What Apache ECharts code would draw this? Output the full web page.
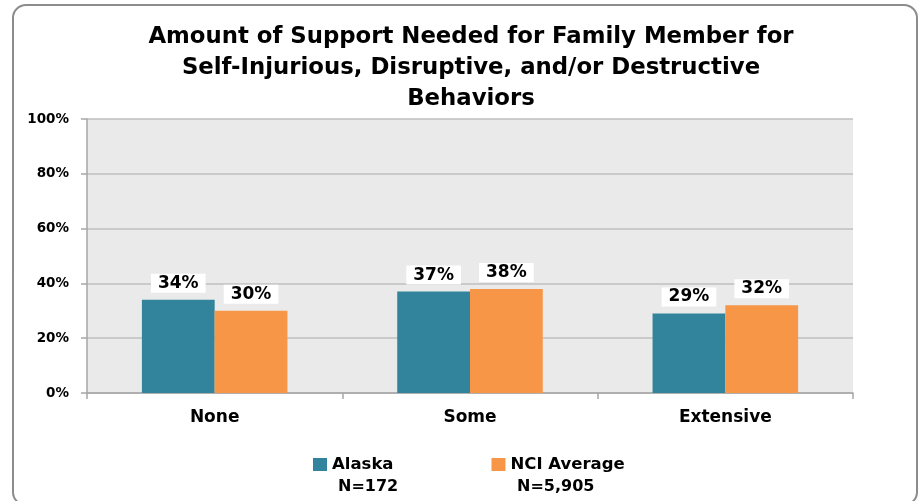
<!DOCTYPE html>
<html>
<head>
<meta charset="utf-8">
<script src="https://cdn.jsdelivr.net/npm/echarts@6/dist/echarts.min.js"></script>
<style>
  html, body { margin: 0; padding: 0; background: #fff; }
  #main { width: 919px; height: 501px; }
</style>
</head>
<body>
<div id="main"></div>
<script>
const categorias = ['None', 'Some', 'Extensive'];
const alaska = [34, 37, 29];
const nciMedia = [30, 38, 32];
const nomesSeries = ['Alaska', 'NCI Average'];
const amostras = ['N=172', 'N=5,905'];
const ticksY = [0, 20, 40, 60, 80, 100];

var myChart = echarts.init(document.getElementById('main'));
var fonte = '"DejaVu Sans", sans-serif';

var rotulo = {
  show: true,
  position: 'top',
  distance: 7,
  formatter: '{c}%',
  fontFamily: fonte,
  fontWeight: 'bold',
  fontSize: 17,
  color: '#000',
  backgroundColor: '#fff',
  padding: [1, 7]
};

var option = {
  animation: false,
  title: {
    text: 'Amount of Support Needed for Family Member for\nSelf-Injurious, Disruptive, and/or Destructive\nBehaviors',
    left: 466,
    textAlign: 'center',
    top: 17,
    textStyle: {
      fontFamily: fonte,
      fontWeight: 'bold',
      fontSize: 22.8,
      lineHeight: 31,
      color: '#000'
    }
  },
  graphic: [
    {
      type: 'rect',
      shape: { x: 13, y: 5, width: 904, height: 500, r: 13 },
      style: { fill: 'none', stroke: '#8c8c8c', lineWidth: 2 },
      silent: true
    },
    {
      type: 'text',
      left: 338,
      top: 479,
      style: { text: amostras[0], font: 'bold 16px ' + fonte, fill: '#000' }
    },
    {
      type: 'text',
      left: 517,
      top: 479,
      style: { text: amostras[1], font: 'bold 16px ' + fonte, fill: '#000' }
    }
  ],
  legend: {
    data: nomesSeries,
    left: 308,
    top: 451,
    itemGap: 98,
    itemWidth: 14,
    itemHeight: 13,
    icon: 'rect',
    textStyle: {
      fontFamily: fonte,
      fontWeight: 'bold',
      fontSize: 16.5,
      color: '#000'
    }
  },
  grid: {
    left: 87,
    right: 66,
    top: 119,
    bottom: 108,
    show: true,
    backgroundColor: '#eaeaea',
    borderWidth: 0
  },
  xAxis: {
    type: 'category',
    data: categorias,
    axisLine: { lineStyle: { color: '#a6a6a6', width: 1.5 } },
    axisTick: { show: true, length: 6, lineStyle: { color: '#a6a6a6', width: 1.5 } },
    axisLabel: {
      margin: 16,
      fontFamily: fonte,
      fontWeight: 'bold',
      fontSize: 17,
      color: '#000'
    }
  },
  yAxis: {
    type: 'value',
    min: ticksY[0],
    max: ticksY[ticksY.length - 1],
    interval: 20,
    axisLine: { show: true, lineStyle: { color: '#a6a6a6', width: 1.5 } },
    axisTick: { show: true, length: 6, lineStyle: { color: '#a6a6a6', width: 1.5 } },
    splitLine: { lineStyle: { color: '#bfbfbf', width: 1.5 } },
    axisLabel: {
      margin: 18,
      formatter: '{value}%',
      fontFamily: fonte,
      fontWeight: 'bold',
      fontSize: 13.5,
      color: '#000'
    }
  },
  series: [
    {
      name: nomesSeries[0],
      type: 'bar',
      data: alaska,
      barGap: '0%',
      barCategoryGap: '43%',
      itemStyle: { color: '#31849b' },
      label: rotulo
    },
    {
      name: nomesSeries[1],
      type: 'bar',
      data: nciMedia,
      itemStyle: { color: '#f79646' },
      label: rotulo
    }
  ]
};

option && myChart.setOption(option);
</script>
</body>
</html>
